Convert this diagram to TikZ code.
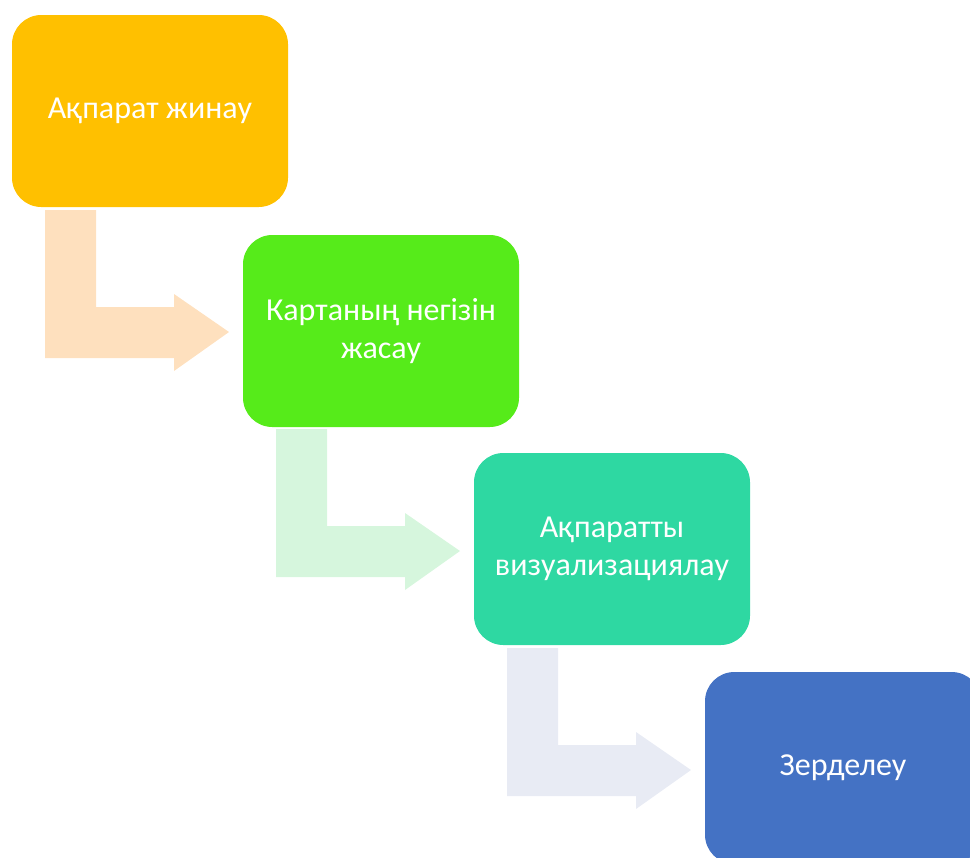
\documentclass[tikz,border=0pt]{standalone}
\usepackage{fontspec}
\setmainfont{Carlito}
\definecolor{boxA}{HTML}{FFC000}
\definecolor{boxB}{HTML}{56EB1A}
\definecolor{boxC}{HTML}{2ED8A2}
\definecolor{boxD}{HTML}{4472C4}
\definecolor{arrA}{HTML}{FEE0BE}
\definecolor{arrB}{HTML}{D6F6DD}
\definecolor{arrC}{HTML}{E8EBF4}
\newcommand\kzbentarrow[2]{%
  \begin{scope}[shift={(#1)}]
    \fill[#2] (45,210) -- (96,210) -- (96,307) -- (174,307) -- (174,294) -- (229,332) -- (174,371) -- (174,358) -- (45,358) -- cycle;
  \end{scope}}
\tikzset{
  stepbox/.style={rounded corners=22pt, minimum width=207pt, minimum height=144pt, inner sep=0pt,
    text=white, align=center, font=\fontsize{24}{28.5}\selectfont},
}
\begin{document}
\begin{tikzpicture}[x=0.75pt,y=-0.75pt]
\useasboundingbox (0,0) rectangle (970,857);
\clip (0,0) rectangle (970,857);
\kzbentarrow{0,0}{arrA}
\kzbentarrow{231,219}{arrB}
\kzbentarrow{462,438}{arrC}
\node[stepbox, fill=boxA] (s1) at (150,111) {Ақпарат жинау};
\node[stepbox, fill=boxB] (s2) at (381,331) {Картаның негізін\\жасау};
\node[stepbox, fill=boxC] (s3) at (612,549) {Ақпаратты\\визуализациялау};
\node[stepbox, fill=boxD] (s4) at (843,768) {Зерделеу};
\end{tikzpicture}
\end{document}
